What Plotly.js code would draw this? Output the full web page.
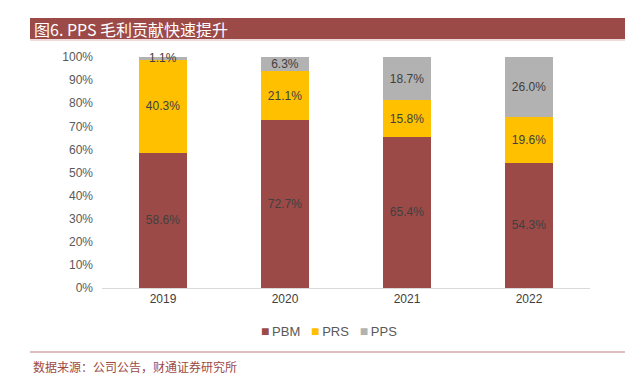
<!DOCTYPE html>
<html><head><meta charset="utf-8">
<script src="https://cdn.plot.ly/plotly-3.0.1.min.js"></script>
<style>html,body{margin:0;padding:0;background:#fff}#c{width:643px;height:374px}</style>
</head><body><div id="c"></div>
<script>
const years = ['2019','2020','2021','2022'];
const pbm = [58.6, 72.7, 65.4, 54.3];
const prs = [40.3, 21.1, 15.8, 19.6];
const pps = [1.1, 6.3, 18.7, 26.0];
const seriesNames = ['PBM','PRS','PPS'];
const colors = ['#9C4A47','#FFC000','#B2B2B2'];
const titleText = '图6. PPS 毛利贡献快速提升';
const sourceText = '数据来源：公司公告，财通证券研究所';

const W=643,H=374,L=102,R=53,T=57,B=86;
const pw=W-L-R, ph=H-T-B;
const px=x=>(x-L)/pw, py=y=>(H-B-y)/ph;
const labelFont={family:'Liberation Sans, Arial, sans-serif', size:12, color:'#404040'};
const small=v=>v<3;

function tr(name, vals, color){
  return {type:'bar', name:name, x:years, y:vals, marker:{color:color},
    text:vals.map(v=>v.toFixed(1)+'%'),
    textposition:vals.map(v=>small(v)?'none':'inside'), insidetextanchor:'middle',
    textfont:labelFont, constraintext:'none', hoverinfo:'skip', showlegend:false};
}
const data=[tr(seriesNames[0],pbm,colors[0]),tr(seriesNames[1],prs,colors[1]),tr(seriesNames[2],pps,colors[2])];

// labels for segments too thin to hold their text: centred on the segment
const extraAnn=[];
pps.forEach((v,i)=>{ if(small(v)) extraAnn.push({xref:'x',yref:'y',x:years[i],y:pbm[i]+prs[i]+v/2,
  text:v.toFixed(1)+'%',showarrow:false,yanchor:'middle',font:labelFont}); });

// compact legend (square marker right next to the name)
const legendText = seriesNames.map((n,i)=>`<span style="color:${colors[i]};font-size:14px">■</span>\u2009${n}`).join('\u00a0\u00a0\u00a0');

const layout={
  width:W,height:H,margin:{l:L,r:R,t:T,b:B},
  paper_bgcolor:'#fff',plot_bgcolor:'#fff',
  barmode:'stack',bargap:0.6,showlegend:false,
  font:{family:'Liberation Sans, Arial, sans-serif',size:12,color:'#595959'},
  xaxis:{showline:true,linecolor:'#D9D9D9',linewidth:1,ticks:'',tickfont:{size:12,color:'#404040'},fixedrange:true},
  yaxis:{range:[0,100],dtick:10,ticksuffix:'%',showgrid:false,zeroline:false,showline:false,
    tickfont:{size:12,color:'#595959'},ticklen:0,ticklabelstandoff:8,fixedrange:true},
  shapes:[
    {type:'rect',xref:'paper',yref:'paper',x0:px(30),x1:px(625),y0:py(39),y1:py(18),fillcolor:'#9C4A47',line:{width:0}},
    {type:'line',xref:'paper',yref:'paper',x0:px(30),x1:px(625),y0:py(40),y1:py(40),line:{color:'#E8CFCE',width:1.5}},
    {type:'line',xref:'paper',yref:'paper',x0:px(30),x1:px(625),y0:py(352),y1:py(352),line:{color:'#D3A9A7',width:1.5}}
  ],
  annotations:[
    {xref:'paper',yref:'paper',x:px(32),y:py(28.5),xanchor:'left',yanchor:'middle',showarrow:false,
     text:titleText,font:{family:'Noto Sans CJK SC, sans-serif',size:16,color:'#fff'}},
    {xref:'paper',yref:'paper',x:px(32),y:py(366),xanchor:'left',yanchor:'middle',showarrow:false,borderpad:0,
     text:sourceText,font:{family:'Noto Sans CJK SC, sans-serif',size:12,color:'#9C4A47'}},
    {xref:'paper',yref:'paper',x:px(329),y:py(331),xanchor:'center',yanchor:'middle',showarrow:false,
     text:legendText,font:{family:'Liberation Sans, Arial, sans-serif',size:13,color:'#595959'}}
  ].concat(extraAnn)
};
Plotly.newPlot('c',data,layout,{displayModeBar:false,staticPlot:true});
</script></body></html>
